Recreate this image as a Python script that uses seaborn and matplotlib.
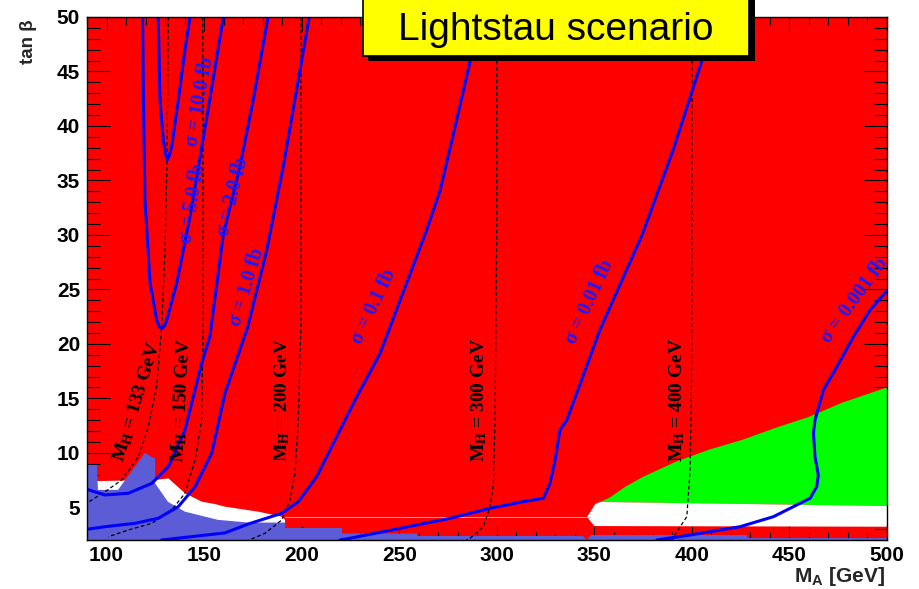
import matplotlib
matplotlib.use("Agg")
import matplotlib.pyplot as plt
from matplotlib.patches import Rectangle
from matplotlib.ticker import MultipleLocator
import pandas as pd
import seaborn as sns

# ---- filled regions, M_A [GeV] vs tan(beta) ----
GREEN_MA = [353.0, 358, 366, 375, 392, 409, 426, 443, 460, 477, 500, 500]
GREEN_TB = [5.49, 5.9, 6.9, 7.8, 9.2, 10.3, 11.2, 12.3, 13.3, 14.6, 16.0, 5.12]

WHITE_L_MA = [95.1, 124.9, 131.7, 140.2, 148.8, 155.6, 160.7, 177.8, 189.8, 191.5, 191.5, 95.1]
WHITE_L_TB = [7.41, 7.5, 7.66, 6.29, 5.52, 5.3, 5.06, 4.60, 4.14, 3.84, 3.0, 3.0]

WHITE_R_MA = [346.3, 350.5, 353.0, 500, 500, 350.0]
WHITE_R_TB = [4.11, 5.3, 5.49, 5.12, 3.22, 3.28]

BLUE_MA = [90, 95.1, 95.6, 105.9, 119.7, 123.3, 124.9, 124.9, 131.5, 140.2, 157.1, 172.7,
           191.5, 191.5, 220.7, 220.7, 259.1, 259.1, 344.2, 346.2, 348.3, 428.3, 428.3,
           500, 500, 90]
BLUE_TB = [8.9, 8.9, 6.6, 6.6, 10.0, 9.6, 9.5, 7.2, 5.5, 4.6, 3.85, 3.6,
           3.6, 3.1, 3.1, 2.6, 2.6, 2.37, 2.37, 2.0, 2.46, 2.46, 2.18,
           2.18, 2.0, 2.0]

# ---- cross-section contours ----
SIG10_MA = [126.5, 127.4, 129.1, 130.4, 131.2, 132.2, 133.4, 136.8, 140.2, 142.8]
SIG10_TB = [50, 42.4, 38.7, 37.3, 36.9, 37.3, 38.1, 42.4, 47.0, 50]

SIG5_MA = [118.5, 118.9, 119.7, 122.3, 125.7, 127.0, 128.3, 129.6, 130.9, 136.0, 142.8,
           151.4, 159.9]
SIG5_TB = [50, 42.4, 33.2, 25.6, 22.2, 21.6, 21.4, 21.6, 22.2, 25.6, 31.7,
           40.8, 50]

SIG2_MA = [182.8, 175.2, 168.4, 159.9, 153.0, 148.8, 140.2, 131.7, 123.2, 111.2, 99.2, 90]
SIG2_TB = [50, 42.4, 36.3, 30.1, 20.7, 18.2, 12.1, 8.73, 7.2, 6.29, 6.13, 6.65]

SIG1_MA = [203.9, 190.6, 182.1, 172.3, 160.7, 153.9, 145.4, 136.8, 126.5, 114.6, 99.2, 90]
SIG1_TB = [50, 36.3, 28.6, 21.5, 15.46, 9.96, 6.89, 5.06, 3.99, 3.53, 3.22, 2.98]

SIG01_MA = [291.4, 286.3, 279.0, 271.0, 264.1, 240.2, 227.4, 207.7, 198.3, 189.8, 172.7,
            160.7, 128.2]
SIG01_TB = [50, 45.9, 40.2, 34.1, 30.45, 19.13, 14.85, 7.81, 5.52, 4.45, 3.47,
            2.65, 2.0]

SIG001_MA = [412.5, 405.0, 390.4, 374.5, 352.9, 335.9, 332.4, 329.9, 327.3, 323.9, 313.6,
             296.6, 276.1, 250.4, 224.8, 219.7]
SIG001_TB = [50, 45.9, 37.8, 30.0, 21.3, 13.0, 12.1, 9.34, 7.2, 5.83, 5.52,
             4.91, 3.99, 3.07, 2.16, 2.0]

SIG0001_MA = [500, 491.3, 482.8, 474.3, 467.4, 463.1, 462.3, 463.1, 464.8, 464.0,
              460.6, 441.8, 424.7, 399.1, 382]
SIG0001_TB = [24.9, 23.1, 20.66, 17.9, 15.77, 13.0, 11.8, 9.64, 7.97, 6.9,
              5.83, 4.14, 3.22, 2.46, 2.0]

# ---- M_H iso-lines ----
MH133_MA = [131.7, 131.0, 130.0, 128.3, 125.7, 121.4, 116.3, 107.8, 99.2, 92.4, 90]
MH133_TB = [50, 36.9, 28.6, 21.6, 16.1, 12.4, 9.64, 7.5, 6.43, 5.67, 5.4]

MH150_MA = [149.3, 149.6, 148.7, 145.4, 140.2, 133.4, 123.2, 111.2, 100.9]
MH150_TB = [50, 22.2, 13.0, 9.34, 6.29, 4.75, 3.53, 2.92, 2.3]

MH200_MA = [199.7, 199.7, 198.3, 196.6, 194.0, 189.8, 181.2, 175.2, 173.0]
MH200_TB = [50, 22.2, 13.0, 8.12, 5.67, 3.84, 2.61, 2.16, 2.0]

MH300_MA = [300.0, 300.0, 299.1, 298.3, 296.6, 293.1, 286.3, 284.5]
MH300_TB = [50, 30.0, 13.0, 7.2, 5.06, 3.22, 2.16, 2.0]

MH400_MA = [400.1, 399.9, 399.1, 397.4, 394.0, 389.7]
MH400_TB = [50, 17.6, 8.42, 4.14, 3.22, 2.0]

SIG_LABELS = ["σ = 10.0 fb", "σ = 5.0 fb", "σ = 2.0 fb", "σ = 1.0 fb",
              "σ = 0.1 fb", "σ = 0.01 fb", "σ = 0.001 fb"]
SIG_LABEL_MA = [147.9, 144.0, 165.0, 171.9, 236.8, 347.8, 483.1]
SIG_LABEL_TB = [42.2, 32.9, 33.5, 25.2, 23.4, 23.9, 24.0]
SIG_LABEL_ROT = [80, 80.5, 76, 73, 64.5, 65, 54]

MH_LABELS = [r"$\mathrm{M_H}$ = 133 GeV", r"$\mathrm{M_H}$ = 150 GeV",
             r"$\mathrm{M_H}$ = 200 GeV", r"$\mathrm{M_H}$ = 300 GeV",
             r"$\mathrm{M_H}$ = 400 GeV"]
MH_LABEL_MA = [115.5, 138.5, 190.0, 291.0, 392.4]
MH_LABEL_TB = [14.7, 14.85, 14.85, 14.9, 14.9]
MH_LABEL_ROT = [72.8, 87, 90, 90, 90]


def as_frame(ma, tb):
    return pd.DataFrame({"MA": ma, "tanb": tb})


sns.set_theme(style="ticks")
plt.rcParams["font.family"] = ["Liberation Sans", "DejaVu Sans"]
plt.rcParams["mathtext.fontset"] = "custom"
plt.rcParams["mathtext.rm"] = "Liberation Serif:bold"
plt.rcParams["mathtext.sf"] = "Liberation Sans:bold"

fig = plt.figure(figsize=(9.2, 5.89), dpi=100)
fig.patch.set_facecolor("white")
ax = fig.add_axes([87 / 920, 49 / 589, 800 / 920, 523 / 589])
ax.set_facecolor("#ff0000")

# regions
ax.fill(GREEN_MA, GREEN_TB, color="#00ff00", lw=0, zorder=1)
ax.fill(WHITE_L_MA, WHITE_L_TB, color="white", lw=0, zorder=1)
ax.fill(WHITE_R_MA, WHITE_R_TB, color="white", lw=0, zorder=1)
ax.fill(BLUE_MA, BLUE_TB, color="#5c5cd6", lw=0, zorder=2)
ax.plot([191.5, 347.8], [4.11, 4.11], color="#ff9a9a", lw=0.7, zorder=2)

# M_H lines
for ma, tb in [(MH133_MA, MH133_TB), (MH150_MA, MH150_TB), (MH200_MA, MH200_TB),
               (MH300_MA, MH300_TB), (MH400_MA, MH400_TB)]:
    sns.lineplot(data=as_frame(ma, tb), x="MA", y="tanb", sort=False, estimator=None,
                 color="black", lw=0.9, linestyle=(0, (3, 2)), ax=ax, zorder=3)

# cross-section contours
for ma, tb in [(SIG10_MA, SIG10_TB), (SIG5_MA, SIG5_TB), (SIG2_MA, SIG2_TB),
               (SIG1_MA, SIG1_TB), (SIG01_MA, SIG01_TB), (SIG001_MA, SIG001_TB),
               (SIG0001_MA, SIG0001_TB)]:
    sns.lineplot(data=as_frame(ma, tb), x="MA", y="tanb", sort=False, estimator=None,
                 color="#0000ff", lw=2.2, ax=ax, zorder=4)

for txt, x, y, r in zip(MH_LABELS, MH_LABEL_MA, MH_LABEL_TB, MH_LABEL_ROT):
    ax.text(x, y, txt, rotation=r, rotation_mode="anchor", ha="center", va="center",
            fontsize=14, fontweight="bold", family=["Liberation Serif", "DejaVu Serif"],
            color="black", zorder=5)

for txt, x, y, r in zip(SIG_LABELS, SIG_LABEL_MA, SIG_LABEL_TB, SIG_LABEL_ROT):
    ax.text(x, y, txt, rotation=r, rotation_mode="anchor", ha="center", va="center",
            fontsize=14.5, fontweight="bold", family=["Liberation Serif", "DejaVu Serif"],
            color="#1a1aff", zorder=5)

ax.set_xlim(90, 500)
ax.set_ylim(2, 50)
ax.set_xlabel("")
ax.set_ylabel("")
ax.xaxis.set_major_locator(MultipleLocator(50))
ax.xaxis.set_minor_locator(MultipleLocator(10))
ax.yaxis.set_major_locator(MultipleLocator(5))
ax.yaxis.set_minor_locator(MultipleLocator(1))
ax.tick_params(which="both", direction="in", top=True, right=True, color="black",
               width=0.8, labelsize=15, labelcolor="black")
ax.tick_params(axis="x", which="major", length=10, pad=4)
ax.tick_params(axis="x", which="minor", length=5.5)
ax.tick_params(axis="y", which="major", length=16.5, pad=5)
ax.tick_params(axis="y", which="minor", length=9.4)
for lab in ax.get_xticklabels() + ax.get_yticklabels():
    lab.set_fontweight("bold")
for sp in ax.spines.values():
    sp.set_color("black")
    sp.set_linewidth(1.0)
    sp.set_zorder(6)

fig.text(29 / 920, 1 - 42 / 589, "tan β", rotation=90, ha="center", va="center",
         fontsize=13.5, fontweight="bold")
fig.text(885 / 920, (589 - 582) / 589, r"$\mathsf{M_A}$ [GeV]", ha="right", va="baseline",
         fontsize=15, fontweight="bold")

# title box with shadow
fig.add_artist(Rectangle((368 / 920, (589 - 61) / 589), (755 - 368) / 920, 0.2,
                         transform=fig.transFigure, facecolor="black", lw=0, zorder=10))
fig.add_artist(Rectangle((363 / 920, (589 - 56) / 589), (749 - 363) / 920, 0.2,
                         transform=fig.transFigure, facecolor="#ffff00", edgecolor="black",
                         lw=1.2, zorder=11))
fig.text(556 / 920, (589 - 40) / 589, "Lightstau scenario", ha="center", va="baseline",
         fontsize=28, color="black", zorder=12)

fig.savefig("out.png", dpi=100)
